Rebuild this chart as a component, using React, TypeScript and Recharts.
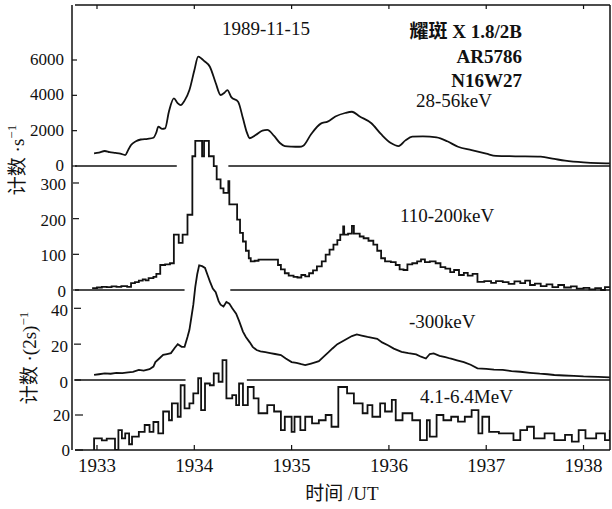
import { ComposedChart, Line, XAxis, YAxis, ReferenceLine } from 'recharts';

// time axis is UT written as hhmm (1933 = 19:33)
const timeTicks = [1933, 1934, 1935, 1936, 1937, 1938];

// 28-56 keV, counts/s
const softTime = [
  1932.97, 1933.02, 1933.08, 1933.13, 1933.19, 1933.24, 1933.29, 1933.32, 1933.35, 1933.4,
  1933.45, 1933.52, 1933.58, 1933.61, 1933.63, 1933.67, 1933.7, 1933.74, 1933.79, 1933.83,
  1933.86, 1933.9, 1933.95, 1934.0, 1934.04, 1934.07, 1934.1, 1934.16, 1934.22, 1934.27,
  1934.31, 1934.34, 1934.38, 1934.45, 1934.5, 1934.54, 1934.57, 1934.63, 1934.7, 1934.75,
  1934.82, 1934.88, 1934.93, 1935.0, 1935.08, 1935.12, 1935.2, 1935.3, 1935.37, 1935.45,
  1935.55, 1935.62, 1935.7, 1935.82, 1935.92, 1936.02, 1936.1, 1936.17, 1936.24, 1936.35,
  1936.49, 1936.6, 1936.71, 1936.85, 1937.0, 1937.1, 1937.3, 1937.56, 1937.7, 1937.81,
  1938.0, 1938.15, 1938.27,
];
const softCount = [
  720, 760, 850, 780, 740, 700, 620, 900, 1190, 1400,
  1500, 1540, 1600, 1900, 2230, 2100, 2130, 3100, 3830, 3550,
  3450, 3700, 4300, 5400, 6190, 6100, 5950, 5620, 4700, 4020,
  4150, 4300, 3900, 3640, 2700, 1900, 1570, 1750, 2000, 2040,
  1700, 1300, 1130, 1100, 1090, 1150, 1800, 2400, 2510, 2800,
  3000, 3070, 2800, 2420, 1800, 1300, 1130, 1450, 1660, 1680,
  1620, 1400, 1090, 900, 700, 570, 550, 530, 400, 300,
  200, 160, 150,
];

// 110-200 keV, counts/s
const midTime = [
  1932.95, 1933.0, 1933.05, 1933.1, 1933.15, 1933.2, 1933.25, 1933.31, 1933.35, 1933.39,
  1933.43, 1933.47, 1933.5, 1933.53, 1933.58, 1933.61, 1933.65, 1933.7, 1933.75, 1933.79,
  1933.84, 1933.88, 1933.93, 1933.98, 1934.01, 1934.05, 1934.08, 1934.1, 1934.13, 1934.15,
  1934.18, 1934.2, 1934.23, 1934.27, 1934.3, 1934.35, 1934.36, 1934.41, 1934.44, 1934.47,
  1934.5, 1934.53, 1934.56, 1934.58, 1934.62, 1934.66, 1934.72, 1934.78, 1934.86, 1934.89,
  1934.93, 1934.97, 1935.02, 1935.06, 1935.1, 1935.14, 1935.18, 1935.22, 1935.26, 1935.31,
  1935.35, 1935.39, 1935.43, 1935.47, 1935.5, 1935.53, 1935.54, 1935.58, 1935.62, 1935.64,
  1935.7, 1935.74, 1935.79, 1935.84, 1935.88, 1935.92, 1935.96, 1936.02, 1936.07, 1936.11,
  1936.15, 1936.19, 1936.24, 1936.29, 1936.33, 1936.37, 1936.42, 1936.48, 1936.53, 1936.58,
  1936.63, 1936.67, 1936.72, 1936.77, 1936.81, 1936.86, 1936.91, 1936.98, 1937.05, 1937.1,
  1937.17, 1937.23, 1937.29, 1937.35, 1937.4, 1937.45, 1937.5, 1937.56, 1937.62, 1937.68,
  1937.74, 1937.8, 1937.87, 1937.93, 1938.0, 1938.06, 1938.12, 1938.18, 1938.22, 1938.27,
];
const midCount = [
  5, 7, 9, 8, 10, 9, 11, 9, 19, 22,
  26, 30, 27, 33, 37, 45, 70, 72, 75, 155,
  132, 155, 211, 375, 418, 418, 375, 418, 418, 375,
  375, 347, 310, 285, 272, 305, 240, 240, 197, 160,
  136, 110, 89, 80, 82, 85, 85, 85, 70, 58,
  47, 40, 37, 35, 42, 38, 47, 55, 66, 80,
  99, 113, 127, 140, 155, 178, 155, 158, 180, 158,
  150, 145, 138, 127, 110, 89, 80, 78, 70, 58,
  56, 72, 75, 80, 86, 78, 80, 75, 64, 60,
  50, 56, 42, 48, 40, 45, 23, 25, 20, 25,
  22, 17, 24, 19, 26, 14, 18, 11, 16, 8,
  14, 7, 10, 4, 6, 2, 5, 0, 8, 8,
];

// -300 keV, counts/(2s)
const hiTime = [
  1932.97, 1933.02, 1933.08, 1933.14, 1933.2, 1933.26, 1933.32, 1933.37, 1933.43, 1933.48,
  1933.54, 1933.58, 1933.6, 1933.64, 1933.68, 1933.72, 1933.76, 1933.8, 1933.83, 1933.87,
  1933.9, 1933.93, 1933.95, 1933.97, 1933.99, 1934.01, 1934.03, 1934.05, 1934.08, 1934.11,
  1934.14, 1934.16, 1934.19, 1934.22, 1934.25, 1934.27, 1934.3, 1934.33, 1934.36, 1934.39,
  1934.43, 1934.46, 1934.5, 1934.53, 1934.57, 1934.6, 1934.64, 1934.68, 1934.73, 1934.78,
  1934.83, 1934.89, 1934.94, 1935.0, 1935.05, 1935.1, 1935.14, 1935.2, 1935.25, 1935.28,
  1935.33, 1935.38, 1935.42, 1935.47, 1935.52, 1935.57, 1935.62, 1935.67, 1935.72, 1935.78,
  1935.83, 1935.88, 1935.93, 1935.99, 1936.05, 1936.13, 1936.2, 1936.28, 1936.33, 1936.38,
  1936.42, 1936.46, 1936.52, 1936.58, 1936.63, 1936.7, 1936.77, 1936.84, 1936.91, 1937.0,
  1937.08, 1937.17, 1937.26, 1937.35, 1937.45, 1937.55, 1937.63, 1937.7, 1937.8, 1937.9,
  1938.0, 1938.06, 1938.15, 1938.27,
];
const hiCount = [
  2.8, 3.2, 3.7, 3.5, 4.0, 3.8, 4.3, 4.5, 5.6, 5.2,
  6.0, 7.5, 10, 12, 14, 14.5, 15, 18, 20, 18.5,
  18.5, 24, 28, 35, 42, 52, 59, 64, 63.5, 62.5,
  58, 55, 51, 49, 44, 42, 41, 43.5, 42.6, 40,
  37, 33, 27, 24, 21, 18.5, 16.7, 16, 15.5, 15,
  14.5, 13.9, 12, 10, 9.5, 8.8, 8.3, 9.2, 10, 10.5,
  13, 15.5, 17.6, 20, 21.5, 23, 24.5, 25.4, 24.8, 24,
  23.5, 23, 21, 19.4, 17.5, 15.7, 15, 14.3, 13, 12,
  14.5, 14.8, 13.5, 12.8, 12, 11, 10, 8.5, 6.5, 6.2,
  5.8, 5.6, 5.0, 4.6, 4.0, 3.5, 3.2, 2.8, 2.5, 2.3,
  2.0, 1.9, 1.7, 1.5,
];

// 4.1-6.4 MeV, counts/(2s)
const gammaTime = [
  1932.965, 1932.97, 1933.05, 1933.1, 1933.185, 1933.22, 1933.256, 1933.29, 1933.33, 1933.36,
  1933.43, 1933.49, 1933.54, 1933.58, 1933.63, 1933.68, 1933.74, 1933.77, 1933.83, 1933.86,
  1933.9, 1933.95, 1933.99, 1934.04, 1934.07, 1934.11, 1934.16, 1934.2, 1934.25, 1934.29,
  1934.33, 1934.39, 1934.43, 1934.46, 1934.5, 1934.55, 1934.61, 1934.66, 1934.75, 1934.82,
  1934.89, 1934.93, 1935.0, 1935.03, 1935.09, 1935.14, 1935.21, 1935.28, 1935.35, 1935.41,
  1935.48, 1935.57, 1935.64, 1935.73, 1935.78, 1935.83, 1935.91, 1935.96, 1936.03, 1936.07,
  1936.14, 1936.24, 1936.32, 1936.39, 1936.42, 1936.49, 1936.56, 1936.64, 1936.71, 1936.78,
  1936.85, 1936.92, 1936.96, 1937.03, 1937.13, 1937.28, 1937.35, 1937.42, 1937.49, 1937.6,
  1937.7, 1937.81, 1937.88, 1937.95, 1938.02, 1938.13, 1938.22, 1938.27,
];
const gammaCount = [
  0, 6.7, 5.5, 6.5, 0, 11.4, 6.7, 9.5, 3.3, 7.6,
  10.4, 14.3, 10.4, 16, 9.5, 22, 17, 26.7, 19, 37,
  23.8, 26.7, 32.4, 41, 22.8, 38, 37, 43.8, 39, 51.4,
  29.5, 31.4, 25.7, 38, 25.7, 36, 29.5, 21, 25.7, 22,
  11.4, 19, 10.4, 19, 11.4, 19, 15.2, 17, 20, 13.3,
  36, 32.4, 26.7, 21, 25.7, 19, 26.7, 22, 28.6, 17,
  21, 17, 5.7, 17, 7.6, 20, 17, 19, 16.2, 19,
  22.8, 9.5, 19, 10.4, 9.5, 5.7, 11.4, 13.3, 6.7, 9.5,
  5.7, 8.6, 4.8, 11.4, 6.7, 9.5, 5.7, 11.4,
];

const softTicks = [0, 2000, 4000, 6000];
const midTicks = [0, 100, 200, 300];
const hiTicks = [0, 20, 40];
const gammaTicks = [0, 20];

const pairs = (ts: number[], vs: number[]) => ts.map((t, i) => ({ t, v: vs[i] }));
const softData = pairs(softTime, softCount);
const midData = pairs(midTime, midCount);
const hiData = pairs(hiTime, hiCount);
const gammaData = pairs(gammaTime, gammaCount);

const X_MIN = 1932.774;
const X_MAX = 1938.272;
const INK = '#111';
const FONT = "'Liberation Serif', 'Noto Sans CJK SC', serif";

// zero lines are broken where the next curve passes through them
const zeroLines = [
  { id: 'soft', gap: [1933.82, 1934.35] },
  { id: 'mid', gap: [1933.9, 1934.37] },
  { id: 'hi', gap: [1933.91, 1934.54] },
];

const xTickStyle = { fill: INK, fontSize: 19, fontFamily: FONT };

// the four left axes are 1px wide each and stack outward, so the margin shrinks by one per axis;
// dy nudges labels apart where two panels' ticks nearly meet
function yAxis(id: string, domain: number[], ticks: number[], slot: number, showLine = false, dy = 0) {
  return (
    <YAxis
      key={id}
      yAxisId={id}
      type="number"
      domain={domain}
      ticks={ticks}
      allowDataOverflow
      width={1}
      axisLine={showLine ? { stroke: INK, strokeWidth: 1.5 } : false}
      tickLine={{ stroke: INK, strokeWidth: 1.2 }}
      tickSize={-5 - slot}
      tickMargin={13}
      tick={{ fill: INK, fontSize: 17, fontFamily: FONT, dy }}
      interval={0}
    />
  );
}

export default function App() {
  return (
    <div style={{ position: 'absolute', left: 0, top: 0, width: 612, height: 509, background: '#fff' }}>
      <ComposedChart width={612} height={509} margin={{ top: 4, right: 1, bottom: 0, left: 71 }}>
        <XAxis
          xAxisId="b"
          type="number"
          dataKey="t"
          domain={[X_MIN, X_MAX]}
          ticks={timeTicks}
          allowDataOverflow
          height={59}
          axisLine={{ stroke: INK, strokeWidth: 1.5 }}
          tickLine={{ stroke: INK, strokeWidth: 1.2 }}
          tickSize={-5}
          tickMargin={14}
          tick={xTickStyle}
          interval={0}
        />
        <XAxis
          xAxisId="top"
          orientation="top"
          type="number"
          dataKey="t"
          domain={[X_MIN, X_MAX]}
          ticks={timeTicks}
          allowDataOverflow
          height={1}
          axisLine={{ stroke: INK, strokeWidth: 1.5 }}
          tickLine={{ stroke: INK, strokeWidth: 1.2 }}
          tickSize={-4}
          tickFormatter={() => ''}
          interval={0}
        />
        {yAxis('soft', [-16075, 9113], softTicks, 0, true, -1)}
        {yAxis('mid', [-448.6, 799], midTicks, 1, false, 1)}
        {yAxis('hi', [-39.05, 209.2], hiTicks, 2, false, 1.5)}
        {yAxis('gamma', [0, 254.3], gammaTicks, 3)}
        <YAxis
          yAxisId="frame"
          orientation="right"
          domain={[0, 1]}
          width={1}
          tick={false}
          tickLine={false}
          axisLine={{ stroke: INK, strokeWidth: 1.5 }}
        />

        {zeroLines.map((z) => [
          <ReferenceLine
            key={z.id + 'a'}
            xAxisId="b"
            yAxisId={z.id}
            segment={[{ x: X_MIN, y: 0 }, { x: z.gap[0], y: 0 }]}
            stroke={INK}
            strokeWidth={1.5}
          />,
          <ReferenceLine
            key={z.id + 'b'}
            xAxisId="b"
            yAxisId={z.id}
            segment={[{ x: z.gap[1], y: 0 }, { x: X_MAX, y: 0 }]}
            stroke={INK}
            strokeWidth={1.5}
          />,
        ])}

        <Line data={softData} xAxisId="b" yAxisId="soft" dataKey="v" type="monotone" stroke={INK} strokeWidth={1.8} dot={false} isAnimationActive={false} />
        <Line data={midData} xAxisId="b" yAxisId="mid" dataKey="v" type="stepAfter" stroke={INK} strokeWidth={1.8} dot={false} isAnimationActive={false} />
        <Line data={hiData} xAxisId="b" yAxisId="hi" dataKey="v" type="linear" stroke={INK} strokeWidth={1.8} dot={false} isAnimationActive={false} />
        <Line data={gammaData} xAxisId="b" yAxisId="gamma" dataKey="v" type="stepAfter" stroke={INK} strokeWidth={1.8} dot={false} isAnimationActive={false} />
      </ComposedChart>

      <svg
        width={612}
        height={509}
        style={{ position: 'absolute', left: 0, top: 0, pointerEvents: 'none' }}
        fontFamily={FONT}
        fill={INK}
      >
        <text x={222} y={35} fontSize={19}>1989-11-15</text>
        <text x={522} y={38} fontSize={19} fontWeight="bold" textAnchor="end">耀斑 X 1.8/2B</text>
        <text x={522} y={63} fontSize={19} fontWeight="bold" textAnchor="end">AR5786</text>
        <text x={522} y={87} fontSize={19} fontWeight="bold" textAnchor="end">N16W27</text>
        <text x={416} y={107} fontSize={19}>28-56keV</text>
        <text x={400} y={222} fontSize={19}>110-200keV</text>
        <text x={409} y={328} fontSize={19}>-300keV</text>
        <text x={420} y={403} fontSize={19}>4.1-6.4MeV</text>
        <text x={342} y={500} fontSize={19} textAnchor="middle">时间 /UT</text>
        <text x={24} y={160} fontSize={19} textAnchor="middle" transform="rotate(-90 24 160)">
          计数 ·s<tspan dy={-8} fontSize={13}>−1</tspan>
        </text>
        <text x={36} y={358} fontSize={19} textAnchor="middle" transform="rotate(-90 36 358)">
          计数 ·(2s)<tspan dy={-8} fontSize={13}>−1</tspan>
        </text>
      </svg>
    </div>
  );
}
